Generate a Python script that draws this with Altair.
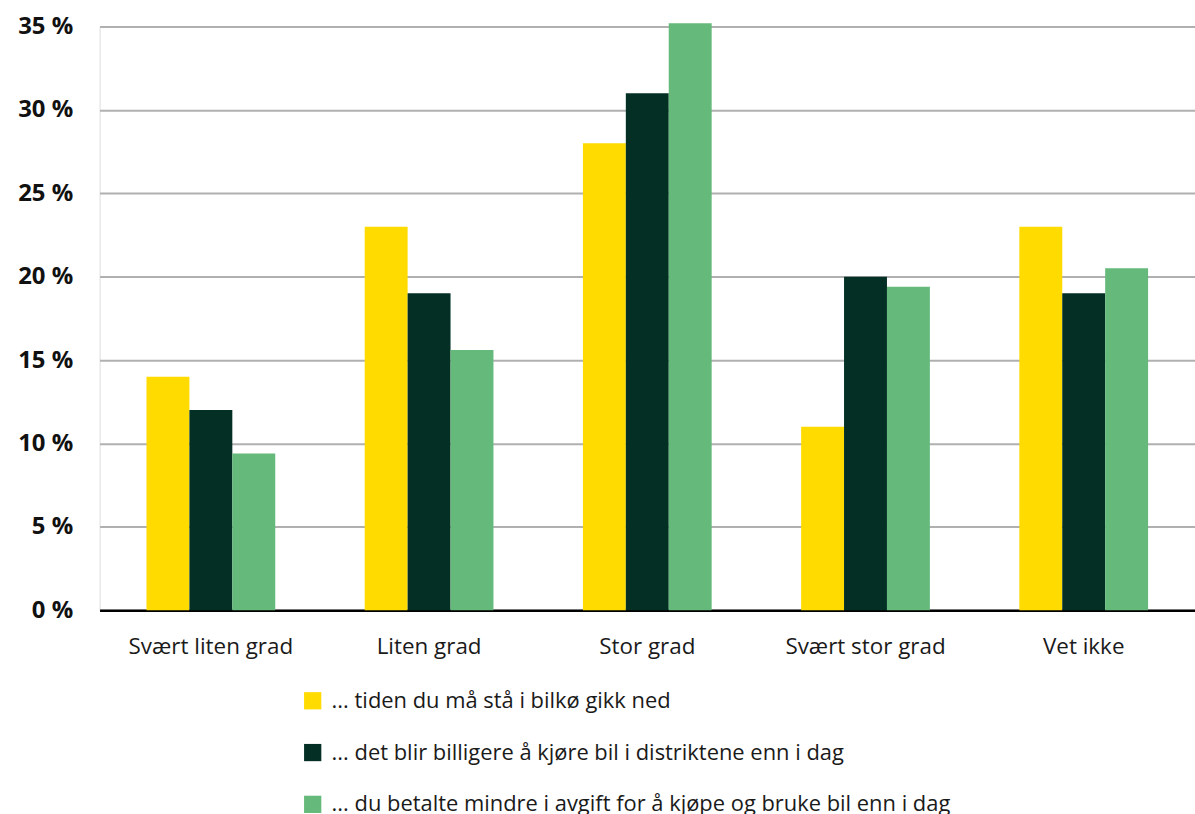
import altair as alt
import pandas as pd

# Answer categories along the x axis
categories = ["Svært liten grad", "Liten grad", "Stor grad", "Svært stor grad", "Vet ikke"]

# Series (legend entries) and their shares in percent
series = [
    "... tiden du må stå i bilkø gikk ned",
    "... det blir billigere å kjøre bil i distriktene enn i dag",
    "... du betalte mindre i avgift for å kjøpe og bruke bil enn i dag",
]
bilko = [14, 23, 28, 11, 23]
billigere = [12, 19, 31, 20, 19]
avgift = [9.4, 15.6, 35.2, 19.4, 20.5]

colors = ["#FFDB00", "#032F24", "#65B97A"]

rows = []
for name, vals in zip(series, [bilko, billigere, avgift]):
    for cat, v in zip(categories, vals):
        rows.append({"kategori": cat, "serie": name, "andel": v})
df = pd.DataFrame(rows)

FONT = "Open Sans"

chart = (
    alt.Chart(df)
    .mark_bar(clip=False)
    .encode(
        x=alt.X(
            "kategori:N",
            sort=categories,
            title=None,
            scale=alt.Scale(paddingInner=0.41, paddingOuter=0.215),
            axis=alt.Axis(
                labelAngle=0,
                ticks=False,
                domain=True,
                domainColor="#000000",
                domainWidth=2.5,
                labelFont=FONT,
                labelFontSize=22.5,
                labelColor="#1a1a1a",
                labelPadding=26,
                grid=False,
            ),
        ),
        xOffset=alt.XOffset("serie:N", sort=series),
        y=alt.Y(
            "andel:Q",
            title=None,
            scale=alt.Scale(domain=[0, 35], nice=False),
            axis=alt.Axis(
                values=[0, 5, 10, 15, 20, 25, 30, 35],
                labelExpr="datum.value + ' %'",
                ticks=False,
                domain=False,
                grid=True,
                gridColor="#b0b0b0",
                gridWidth=2,
                labelFont=FONT,
                labelFontSize=24,
                labelFontWeight="bold",
                labelColor="#111111",
                labelPadding=27,
            ),
        ),
        color=alt.Color(
            "serie:N",
            sort=series,
            scale=alt.Scale(domain=series, range=colors),
            legend=alt.Legend(
                title=None,
                orient="none",
                legendX=203,
                legendY=666,
                direction="vertical",
                symbolType="square",
                symbolSize=300,
                symbolStrokeWidth=0,
                labelFont=FONT,
                labelFontSize=22,
                labelColor="#1a1a1a",
                labelLimit=900,
                rowPadding=30,
                labelOffset=8,
            ),
        ),
    )
    .properties(
        width=1100,
        height=586,
        autosize=alt.AutoSizeParams(type="none"),
        padding={"left": 100, "top": 25, "right": 0, "bottom": 203},
    )
    .configure_view(stroke=None)
    .configure(background="#ffffff")
)

chart.save("out.html", embed_options={"renderer": "svg", "actions": False})
